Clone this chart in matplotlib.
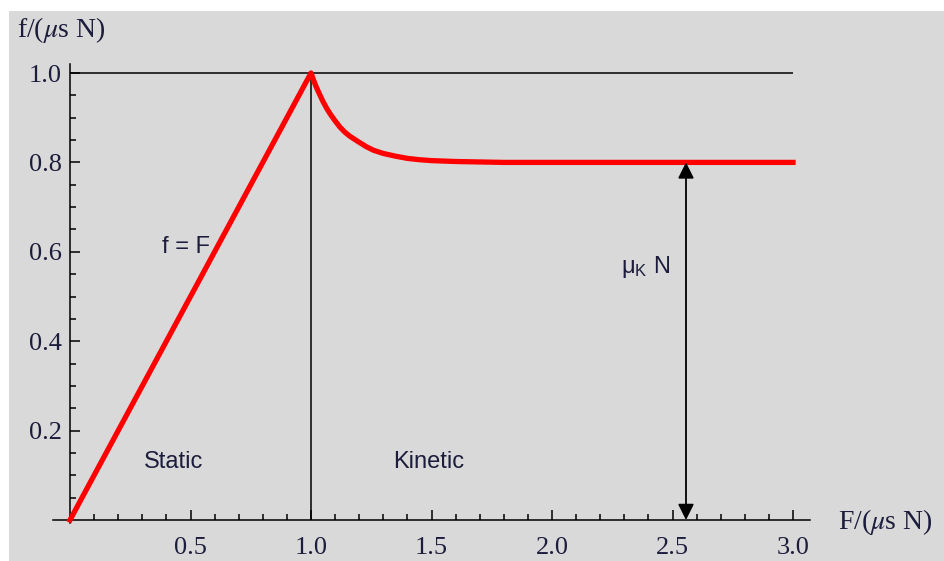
import matplotlib
matplotlib.use('Agg')
import matplotlib.pyplot as plt
from matplotlib.patches import Rectangle
from matplotlib.ticker import FixedLocator

plt.rcParams['mathtext.fontset'] = 'stix'

# friction curve
F_vals = [0.0, 1.0, 1.01, 1.02, 1.035, 1.05, 1.065, 1.08, 1.1, 1.12, 1.14,
          1.16, 1.18, 1.2, 1.23, 1.26, 1.3, 1.35, 1.4, 1.45, 1.5, 1.6, 1.8,
          2.0, 2.5, 3.0]
f_vals = [0.0, 1.0, 0.985, 0.971, 0.953, 0.936, 0.921, 0.908, 0.893, 0.879,
          0.868, 0.859, 0.852, 0.845, 0.835, 0.827, 0.820, 0.814, 0.809,
          0.806, 0.804, 0.802, 0.800, 0.800, 0.800, 0.800]

mu_k = 0.8
arrow_F = 2.556
x_ticks = [0.5, 1.0, 1.5, 2.0, 2.5, 3.0]
y_ticks = [0.2, 0.4, 0.6, 0.8, 1.0]
x_minor = [i / 10 for i in range(1, 30) if i % 5]
y_minor = [i / 20 for i in range(1, 20) if i % 4]

serif = 'Liberation Serif'
sans = 'Liberation Sans'
txt_col = '#1c1c3c'

fig = plt.figure(figsize=(9.45, 5.61), dpi=100)
fig.patches.append(Rectangle((9 / 945, 0), 1, 1 - 11 / 561, transform=fig.transFigure,
                             facecolor='#d9d9d9', edgecolor='none', zorder=-10))
ax = fig.add_axes([0, 0, 1, 1])
ax.set_facecolor('none')
ax.set_xlim(-70 / 241, 875 / 241)
ax.set_ylim(-41 / 447, 520 / 447)

for s in ['top', 'right']:
    ax.spines[s].set_visible(False)
ax.spines['left'].set_position(('data', 0))
ax.spines['bottom'].set_position(('data', 0))
ax.spines['left'].set_bounds(-0.007, 1.02)
ax.spines['bottom'].set_bounds(-0.07, 3.07)
for s in ['left', 'bottom']:
    ax.spines[s].set_linewidth(1.1)

ax.set_xticks(x_ticks)
ax.set_xticklabels([f'{v:.1f}' for v in x_ticks])
ax.set_yticks(y_ticks)
ax.set_yticklabels([f'{v:.1f}' for v in y_ticks])
ax.xaxis.set_minor_locator(FixedLocator(x_minor))
ax.yaxis.set_minor_locator(FixedLocator(y_minor))
ax.tick_params(which='both', direction='in', width=1.1, colors='black',
               labelcolor=txt_col)
ax.tick_params(which='major', length=7, labelsize=19)
ax.tick_params(which='minor', length=4)
ax.tick_params(axis='x', which='major', pad=12)
ax.tick_params(axis='y', which='major', pad=6)
for lab in ax.get_xticklabels() + ax.get_yticklabels():
    lab.set_fontfamily(serif)

ax.hlines(1.0, 0, 3.0, color='black', lw=1.1)
ax.vlines(1.0, 0, 1.0, color='black', lw=1.1)
ax.plot(F_vals, f_vals, color='red', lw=3.8, solid_joinstyle='round', zorder=3)

ax.annotate('', xy=(arrow_F, mu_k), xytext=(arrow_F, 0),
            arrowprops=dict(arrowstyle='<|-|>', color='black', lw=1.3,
                            mutation_scale=24, shrinkA=0, shrinkB=0), zorder=4)

ax.text(0.48, 0.61, 'f = F', fontsize=17, family=sans, color=txt_col,
        ha='center', va='center')
ax.text(0.43, 0.13, 'Static', fontsize=17, family=sans, color=txt_col,
        ha='center', va='center')
ax.text(1.49, 0.13, 'Kinetic', fontsize=17, family=sans, color=txt_col,
        ha='center', va='center')
ax.text(2.39, 0.565, r'μ$_\mathregular{K}$ N', fontsize=17, family=sans,
        color=txt_col, ha='center', va='center')

ax.text(-0.22, 1.096, r'f/($\mu$s N)', fontsize=20, family=serif, color=txt_col,
        ha='left', va='center')
ax.text(3.187, -0.004, r'F/($\mu$s N)', fontsize=20, family=serif, color=txt_col,
        ha='left', va='center')

fig.savefig('out.png', dpi=100)
